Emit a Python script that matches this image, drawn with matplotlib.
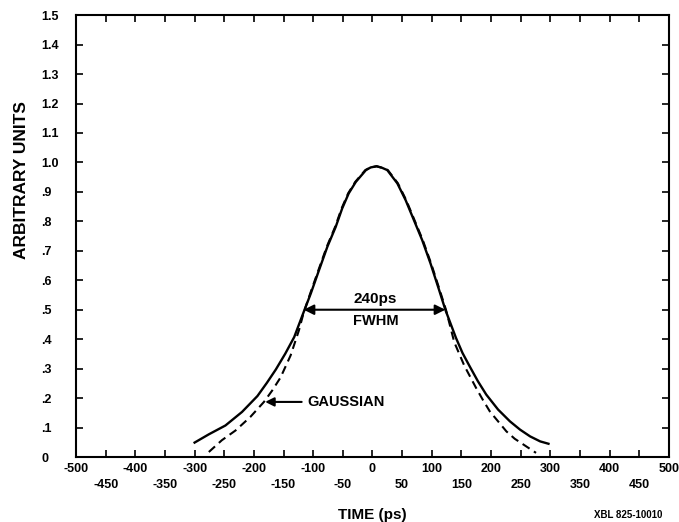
import numpy as np
import matplotlib
matplotlib.use("Agg")
import matplotlib.pyplot as plt

plt.rcParams['font.family'] = ['Liberation Sans', 'DejaVu Sans']
plt.rcParams['font.weight'] = 'bold'

t_meas = [-300, -276, -248, -220, -194, -178, -163, -147, -132, -116, -104, -90,
          -76, -62, -51, -40, -28, -11, -3, 7, 16, 25, 42, 56, 70, 84, 98, 112,
          123, 141, 152, 164, 178, 192, 212, 232, 249, 266, 283, 297]
y_meas = [0.049, 0.077, 0.107, 0.153, 0.207, 0.252, 0.297, 0.351, 0.407, 0.492, 0.555, 0.635,
          0.714, 0.781, 0.844, 0.895, 0.934, 0.974, 0.983, 0.987, 0.982, 0.974, 0.929, 0.872,
          0.804, 0.736, 0.657, 0.57, 0.5, 0.404, 0.353, 0.308, 0.257, 0.212, 0.161, 0.121,
          0.093, 0.07, 0.053, 0.045]

# gaussian fit (dashed)
t_gaus = [-276, -254, -231, -206, -183, -169, -155, -138, -124, -116, -105, -91,
          -77, -63, -52, -41, -29, -12, -3, 7, 16, 26, 43, 57, 71, 85, 99, 113,
          124, 138, 155, 175, 186, 198, 212, 226, 240, 255, 276]
y_gaus = [0.017, 0.057, 0.09, 0.136, 0.187, 0.226, 0.27, 0.345, 0.43, 0.49, 0.555, 0.635,
          0.714, 0.781, 0.844, 0.895, 0.934, 0.974, 0.983, 0.987, 0.982, 0.974, 0.929, 0.872,
          0.804, 0.736, 0.657, 0.57, 0.5, 0.39, 0.31, 0.234, 0.195, 0.155, 0.121, 0.087,
          0.062, 0.042, 0.014]

x_major = list(range(-500, 501, 100))
x_minor = list(range(-450, 451, 100))
y_ticks = [i / 10 for i in range(16)]
y_labels = ['0', '.1', '.2', '.3', '.4', '.5', '.6', '.7', '.8', '.9',
            '1.0', '1.1', '1.2', '1.3', '1.4', '1.5']

fig = plt.figure(figsize=(6.79, 5.22), dpi=100)
ax = fig.add_axes([0.112, 0.1245, 0.873, 0.8465])

ax.plot(t_meas, y_meas, color='black', lw=1.7, solid_joinstyle='round')
ax.plot(t_gaus, y_gaus, color='black', lw=1.5, linestyle=(0, (4, 2.5)))

ax.set_xlim(-500, 500)
ax.set_ylim(0, 1.5)

ax.set_xticks(x_major)
ax.set_xticklabels([str(v) for v in x_major])
ax.set_xticks(x_minor, minor=True)
ax.set_xticklabels([str(v) for v in x_minor], minor=True)
ax.set_yticks(y_ticks)
ax.set_yticklabels(y_labels)

ax.tick_params(axis='both', which='both', direction='in', top=True, right=True,
               length=5, width=1.2, labelsize=9)
ax.tick_params(axis='x', which='major', pad=4)
ax.tick_params(axis='x', which='minor', pad=16)
ax.tick_params(axis='y', pad=25)
for lab in ax.get_yticklabels():
    lab.set_horizontalalignment('left')

for s in ax.spines.values():
    s.set_linewidth(1.5)

# FWHM arrow
ax.annotate('', xy=(-116, 0.5), xytext=(123, 0.5),
            arrowprops=dict(arrowstyle='<|-|>', color='black', lw=1.5,
                            mutation_scale=15, shrinkA=0, shrinkB=0))
ax.text(5, 0.512, '240ps', ha='center', va='bottom', fontsize=11, fontweight='bold')
ax.text(5, 0.485, 'FWHM', ha='center', va='top', fontsize=10.5, fontweight='bold')

# gaussian label
ax.annotate('GAUSSIAN', xy=(-181, 0.187), xytext=(-110, 0.187),
            ha='left', va='center', fontsize=10.5, fontweight='bold',
            arrowprops=dict(arrowstyle='-|>', color='black', lw=1.5,
                            mutation_scale=13, shrinkA=2, shrinkB=0))

ax.set_xlabel('TIME (ps)', fontsize=11, fontweight='bold', labelpad=12)
ax.set_ylabel('ARBITRARY UNITS', fontsize=12.5, fontweight='bold')
ax.yaxis.set_label_coords(-0.08, 0.627)

fig.text(0.925, 0.004, 'XBL 825-10010', fontsize=7, ha='center', va='bottom')

fig.savefig('out.png', dpi=100)
